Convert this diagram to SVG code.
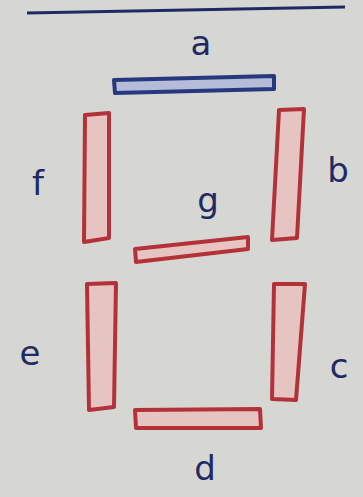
<svg xmlns="http://www.w3.org/2000/svg" width="363" height="497" viewBox="0 0 363 497">
<style>
.red{fill:#e6c4c2;stroke:#b3323a;stroke-width:4;stroke-linejoin:round}
.blue{fill:#b4bcd8;stroke:#27387f;stroke-width:4;stroke-linejoin:round}
.lbl{font-family:"DejaVu Sans","Liberation Sans",sans-serif;font-size:34px;fill:#1f2a63;text-anchor:middle}
</style>
<rect width="363" height="497" fill="#d6d7d3"/>
<g id="rule"><path d="M27 13 L345 7" stroke="#1f2a63" stroke-width="3" fill="none"/></g>
<g id="seg-a"><polygon class="blue" points="114,80 274,76 274,89 115,93"/><text class="lbl" x="201" y="55">a</text></g>
<g id="seg-b"><polygon class="red" points="279,110 304,109 297,238 272,240"/><text class="lbl" x="338" y="182">b</text></g>
<g id="seg-c"><polygon class="red" points="274,284 305,284 296,400 272,399"/><text class="lbl" x="339" y="378">c</text></g>
<g id="seg-d"><polygon class="red" points="135,410 260,409 261,428 136,428"/><text class="lbl" x="205" y="480">d</text></g>
<g id="seg-e"><polygon class="red" points="87,284 116,283 114,407 89,410"/><text class="lbl" x="30" y="365">e</text></g>
<g id="seg-f"><polygon class="red" points="85,115 109,113 109,238 84,242"/><text class="lbl" x="38" y="195">f</text></g>
<g id="seg-g"><polygon class="red" points="135,249 248,237 248,249 136,262"/><text class="lbl" x="208" y="212">g</text></g>
</svg>
